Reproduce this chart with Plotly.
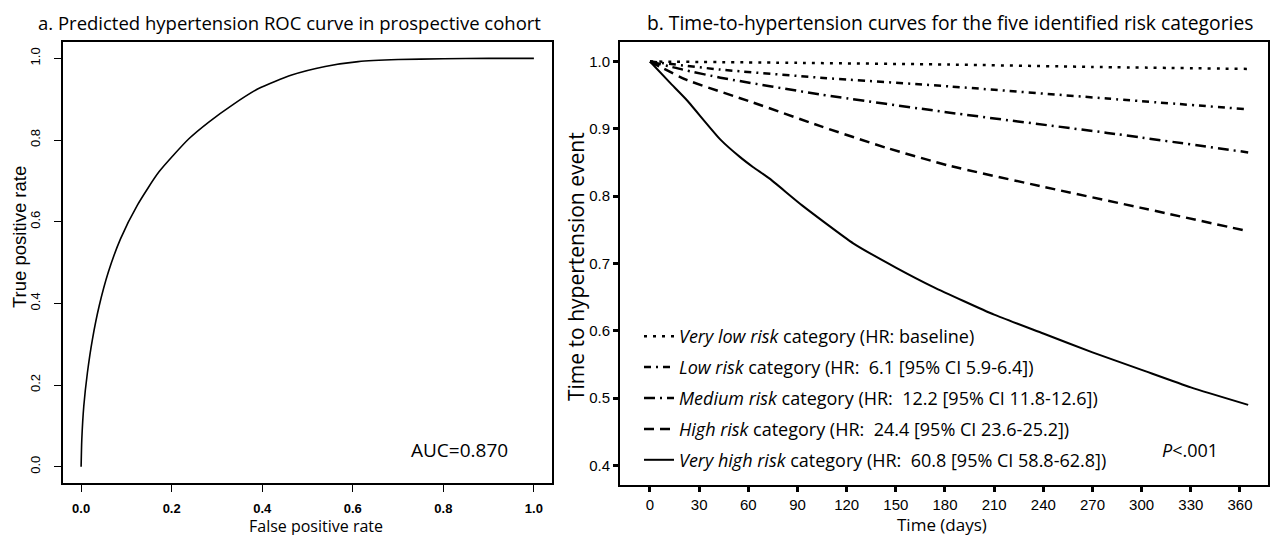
import plotly.graph_objects as go

W, H = 1271, 535

# ---- Panel a: ROC curve ----
roc_fpr = [0, 0.0015, 0.0059, 0.0139, 0.025, 0.040, 0.060, 0.087, 0.124, 0.172, 0.238,
           0.282, 0.333, 0.392, 0.465, 0.539, 0.612, 0.70, 0.80, 0.90, 1.0]
roc_tpr = [0, 0.066, 0.148, 0.230, 0.312, 0.394, 0.476, 0.558, 0.640, 0.722, 0.803,
           0.844, 0.885, 0.926, 0.959, 0.980, 0.992, 0.997, 0.999, 1.0, 1.0]
roc_ticks = [0.0, 0.2, 0.4, 0.6, 0.8, 1.0]
auc_label = "AUC=0.870"

# ---- Panel b: time-to-hypertension curves ----
days_very_low = [0, 90, 183, 270, 365]
surv_very_low = [1.0, 0.998, 0.9955, 0.992, 0.989]
days_low = [0, 43, 104, 183, 279, 365]
surv_low = [1.0, 0.988, 0.976, 0.963, 0.945, 0.929]
days_medium = [0, 20, 43, 104, 183, 279, 365]
surv_medium = [1.0, 0.988, 0.976, 0.951, 0.924, 0.894, 0.865]
days_high = [0, 22, 63, 104, 144, 183, 238, 299, 365]
surv_high = [1.0, 0.973, 0.939, 0.904, 0.872, 0.845, 0.815, 0.783, 0.748]
days_very_high = [0, 12, 22, 43, 55, 63, 73, 93, 124, 150, 173, 210, 240, 270, 300, 330, 365]
surv_very_high = [1.0, 0.969, 0.944, 0.884, 0.858, 0.843, 0.826, 0.786, 0.730, 0.694,
                  0.665, 0.624, 0.596, 0.568, 0.542, 0.516, 0.49]
day_ticks = list(range(0, 361, 30))
surv_ticks = [0.4, 0.5, 0.6, 0.7, 0.8, 0.9, 1.0]

NB = "\u00a0"
legend_names = [
    "<i>Very low risk</i> category (HR: baseline)",
    "<i>Low risk</i> category (HR:" + NB + NB + "6.1 [95% CI 5.9-6.4])",
    "<i>Medium risk</i> category (HR:" + NB + NB + "12.2 [95% CI 11.8-12.6])",
    "<i>High risk</i> category (HR:" + NB + NB + "24.4 [95% CI 23.6-25.2])",
    "<i>Very high risk</i> category (HR:" + NB + NB + "60.8 [95% CI 58.8-62.8])",
]
dashes = ["3px,6px", "7px,5px,2px,5px", "11px,5px,2px,5px", "10px,6px", "solid"]
widths = [2.5, 2.5, 2.5, 2.5, 2.0]

fig = go.Figure()

fig.add_trace(go.Scatter(x=roc_fpr, y=roc_tpr, mode="lines",
                         line=dict(color="black", width=1.6, shape="spline", smoothing=0.6),
                         xaxis="x", yaxis="y", showlegend=False))

series = [(days_very_low, surv_very_low), (days_low, surv_low), (days_medium, surv_medium),
          (days_high, surv_high), (days_very_high, surv_very_high)]
for i, (d, s) in enumerate(series):
    fig.add_trace(go.Scatter(x=d, y=s, mode="lines", name=legend_names[i],
                             legendgroup="g%d" % i,
                             line=dict(color="black", width=widths[i], dash=dashes[i],
                                       shape="spline", smoothing=0.5),
                             xaxis="x2", yaxis="y2"))

def px_x(p):
    return p / W

def px_y(p):
    return 1 - p / H

arial = "Liberation Sans, Arial, sans-serif"
sans = "Open Sans, Noto Sans, sans-serif"

fig.update_layout(
    width=W, height=H,
    margin=dict(l=0, r=0, t=0, b=0),
    paper_bgcolor="white", plot_bgcolor="white",
    showlegend=True,
    legend=dict(x=px_x(639), y=px_y(318), xanchor="left", yanchor="top",
                bgcolor="rgba(0,0,0,0)", font=dict(family=sans, size=18, color="black"),
                traceorder="grouped", tracegroupgap=4.5, itemwidth=30),
    xaxis=dict(domain=[px_x(63), px_x(552)], range=[-0.04, 1.04],
               tickvals=roc_ticks, ticktext=["%.1f" % v for v in roc_ticks],
               ticks="outside", ticklen=7, tickwidth=1, tickcolor="black",
               ticklabelstandoff=6,
               showline=True, mirror=True, linecolor="black", linewidth=1.5,
               showgrid=False, zeroline=False, anchor="y",
               tickfont=dict(family=arial, size=13, color="black", weight="bold")),
    yaxis=dict(domain=[px_y(483), px_y(42)], range=[-0.04, 1.04],
               tickvals=roc_ticks, ticktext=["%.1f" % v for v in roc_ticks],
               tickangle=-90, ticklabelstandoff=9,
               ticks="outside", ticklen=7, tickwidth=1, tickcolor="black",
               showline=True, mirror=True, linecolor="black", linewidth=1.5,
               showgrid=False, zeroline=False, anchor="x",
               tickfont=dict(family=arial, size=13, color="black")),
    xaxis2=dict(domain=[px_x(620), px_x(1268)], range=[-18.3, 377.1],
                tickvals=day_ticks, ticktext=[str(v) for v in day_ticks],
                ticks="outside", ticklen=5, tickwidth=3, tickcolor="black",
                showline=True, mirror=True, linecolor="black", linewidth=2,
                showgrid=False, zeroline=False, anchor="y2",
                tickfont=dict(family=arial, size=15, color="black")),
    yaxis2=dict(domain=[px_y(485), px_y(42)], range=[0.371, 1.029],
                tickvals=surv_ticks, ticktext=["%.1f" % v for v in surv_ticks],
                ticks="outside", ticklen=5, tickwidth=3, tickcolor="black",
                showline=True, mirror=True, linecolor="black", linewidth=2,
                showgrid=False, zeroline=False, anchor="x2",
                tickfont=dict(family=arial, size=15, color="black")),
)

ann = [
    dict(text="a. Predicted hypertension ROC curve in prospective cohort",
         x=px_x(289), y=px_y(22), font=dict(family=sans, size=18.5)),
    dict(text="b. Time-to-hypertension curves for the five identified risk categories",
         x=px_x(950), y=px_y(22), font=dict(family=sans, size=19.3)),
    dict(text="True positive rate", x=px_x(19), y=px_y(237), textangle=-90,
         font=dict(family=arial, size=18.5)),
    dict(text="False positive rate", x=px_x(316), y=px_y(526),
         font=dict(family=sans, size=16)),
    dict(text="Time to hypertension event", x=px_x(576), y=px_y(267), textangle=-90,
         font=dict(family=sans, size=21)),
    dict(text="Time (days)", x=px_x(942), y=px_y(524), font=dict(family=sans, size=17)),
    dict(text=auc_label, x=px_x(459), y=px_y(450), font=dict(family=sans, size=19)),
    dict(text="<i>P</i><.001", x=px_x(1190), y=px_y(450), font=dict(family=sans, size=18)),
]
for a in ann:
    a.update(xref="paper", yref="paper", showarrow=False, xanchor="center", yanchor="middle")
    a["font"]["color"] = "black"
fig.update_layout(annotations=ann)

fig.write_html("out.html", config={"displayModeBar": False},
               post_script="document.body.style.margin='0';")
